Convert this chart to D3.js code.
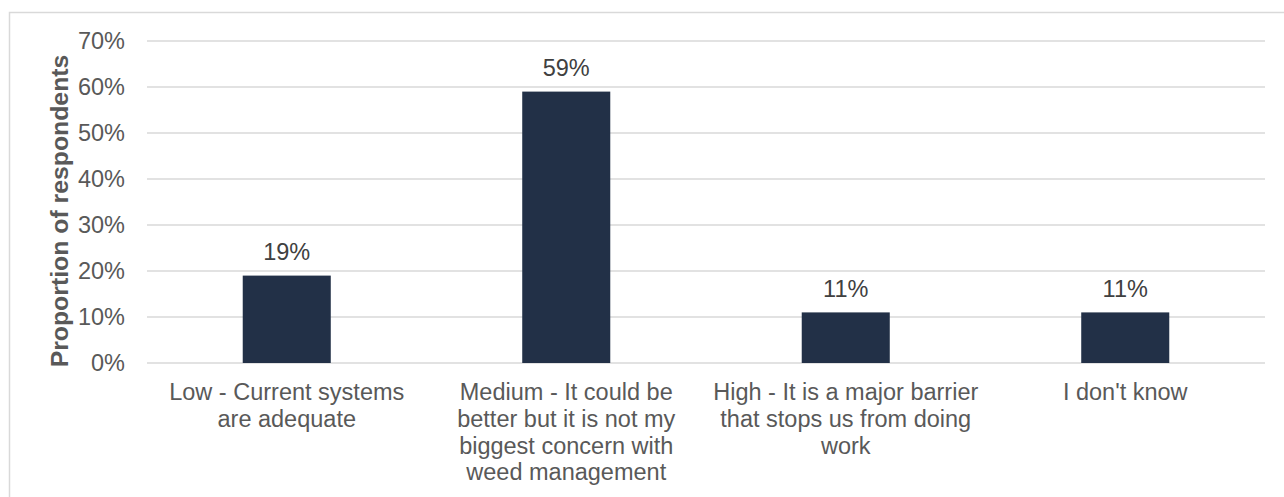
<!DOCTYPE html>
<html>
<head>
<meta charset="utf-8">
<script src="https://cdn.jsdelivr.net/npm/d3@7"></script>
<style>
  html, body { margin: 0; padding: 0; background: #ffffff; }
  svg { display: block; font-family: "Liberation Sans", Arial, sans-serif; }
</style>
</head>
<body>
<svg id="chart" width="1284" height="497"></svg>
<script>
// ---- data ----
const categories = [
  "Low - Current systems\nare adequate",
  "Medium - It could be\nbetter but it is not my\nbiggest concern with\nweed management",
  "High - It is a major barrier\nthat stops us from doing\nwork",
  "I don't know"
];
const values = [0.19, 0.59, 0.11, 0.11];
const valueLabels = ["19%", "59%", "11%", "11%"];
const yTicks = [0, 0.1, 0.2, 0.3, 0.4, 0.5, 0.6, 0.7];
const yTitle = "Proportion of respondents";

// ---- layout ----
const svg = d3.select("#chart");
const plotLeft = 147, plotRight = 1265, plotTop = 41, plotBottom = 363;
const fontSize = 23.5;

svg.append("rect")
  .attr("x", 9.5).attr("y", 12.5)
  .attr("width", 1300).attr("height", 500)
  .attr("fill", "none").attr("stroke", "#d9d9d9").attr("stroke-width", 1.5);

const x = d3.scaleBand()
  .domain(categories)
  .range([plotLeft, plotRight])
  .paddingInner(0.685)
  .paddingOuter(0.3425);

const y = d3.scaleLinear().domain([0, 0.7]).range([plotBottom, plotTop]);

// gridlines
svg.append("g").selectAll("line")
  .data(yTicks)
  .join("line")
  .attr("x1", plotLeft).attr("x2", plotRight)
  .attr("y1", d => y(d)).attr("y2", d => y(d))
  .attr("stroke", "#d9d9d9").attr("stroke-width", 1.5);

// y axis labels
const yAxis = d3.axisLeft(y).tickValues(yTicks).tickFormat(d3.format(".0%")).tickSize(0).tickPadding(22);
const yg = svg.append("g").attr("transform", `translate(${plotLeft},0)`).call(yAxis);
yg.select(".domain").remove();
yg.selectAll("text")
  .attr("font-size", fontSize)
  .attr("font-family", "Liberation Sans, Arial, sans-serif")
  .attr("fill", "#595959");

// bars
svg.append("g").selectAll("rect")
  .data(values)
  .join("rect")
  .attr("x", (d, i) => x(categories[i]))
  .attr("width", x.bandwidth())
  .attr("y", d => y(d))
  .attr("height", d => y(0) - y(d))
  .attr("fill", "#223047");

// value labels
svg.append("g").selectAll("text")
  .data(values)
  .join("text")
  .attr("x", (d, i) => x(categories[i]) + x.bandwidth() / 2)
  .attr("y", d => y(d) - 15.5)
  .attr("text-anchor", "middle")
  .attr("font-size", fontSize)
  .attr("fill", "#404040")
  .text((d, i) => valueLabels[i]);

// category labels
const cg = svg.append("g");
categories.forEach(c => {
  const t = cg.append("text")
    .attr("x", x(c) + x.bandwidth() / 2)
    .attr("y", plotBottom + 37)
    .attr("text-anchor", "middle")
    .attr("font-size", fontSize)
    .attr("fill", "#595959");
  c.split("\n").forEach((line, j) => {
    t.append("tspan")
      .attr("x", x(c) + x.bandwidth() / 2)
      .attr("dy", j === 0 ? 0 : 26.8)
      .text(line);
  });
});

// y axis title
svg.append("text")
  .attr("transform", `translate(68, ${(plotTop + plotBottom) / 2 + 9}) rotate(-90)`)
  .attr("text-anchor", "middle")
  .attr("font-size", 24.8)
  .attr("font-weight", "bold")
  .attr("fill", "#595959")
  .text(yTitle);
</script>
</body>
</html>
